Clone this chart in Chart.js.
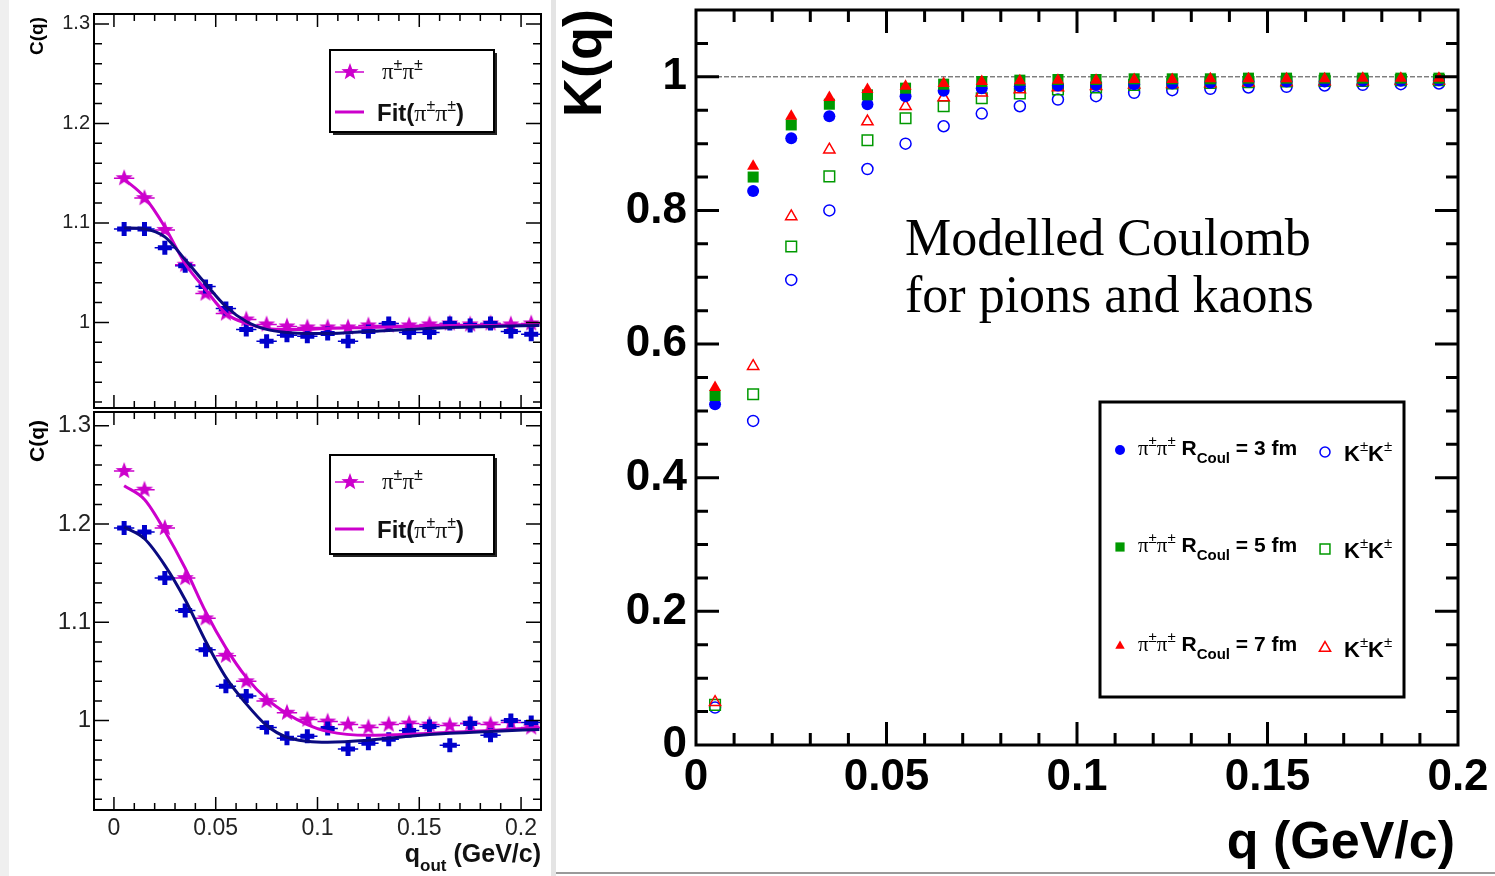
<!DOCTYPE html>
<html>
<head>
<meta charset="utf-8">
<script src="https://cdn.jsdelivr.net/npm/chart.js@4.4.0/dist/chart.umd.min.js"></script>
<style>
  body { margin: 0; background: #fff; width: 1495px; height: 876px; position: relative; overflow: hidden; }
  canvas { position: absolute; }
  .strip { position: absolute; }
  #topLeft { left: 0; top: 0; }
  #botLeft { left: 0; top: 400px; }
  #right { left: 556px; top: 0; }
</style>
</head>
<body>
<div class="strip" style="left:0;top:0;width:9px;height:876px;background:#efefef"></div>
<div class="strip" style="left:551px;top:0;width:5px;height:876px;background:#e4e4e4"></div>
<div class="strip" style="left:556px;top:872px;width:939px;height:2px;background:#9a9a9a"></div>
<canvas id="topLeft" width="553" height="420"></canvas>
<canvas id="botLeft" width="553" height="476"></canvas>
<canvas id="right" width="939" height="876"></canvas>
<script>
// left panels: q_out bins
const qOut = [0.005, 0.015, 0.025, 0.035, 0.045, 0.055, 0.065, 0.075, 0.085, 0.095, 0.105,
  0.115, 0.125, 0.135, 0.145, 0.155, 0.165, 0.175, 0.185, 0.195, 0.205];
const topStars = [1.145, 1.125, 1.093, 1.058, 1.029, 1.009, 1.003, 0.998, 0.996, 0.995, 0.995,
  0.995, 0.997, 0.997, 0.997, 0.998, 0.999, 0.998, 0.999, 0.998, 0.999];
const topCrosses = [1.094, 1.094, 1.075, 1.057, 1.036, 1.014, 0.993, 0.981, 0.987, 0.986, 0.989,
  0.981, 0.991, 0.999, 0.990, 0.990, 0.999, 0.997, 0.999, 0.991, 0.988];
const botStars = [1.254, 1.235, 1.196, 1.145, 1.104, 1.066, 1.040, 1.020, 1.008, 1.001, 0.999,
  0.996, 0.993, 0.996, 0.997, 0.996, 0.995, 0.997, 0.996, 0.998, 0.993];
const botCrosses = [1.196, 1.192, 1.145, 1.112, 1.072, 1.035, 1.025, 0.993, 0.982, 0.984, 0.992,
  0.971, 0.977, 0.981, 0.990, 0.994, 0.975, 0.997, 0.985, 1.000, 0.998];

// fit curves
const fitQ = [0.005, 0.015, 0.025, 0.035, 0.045, 0.055, 0.065, 0.075, 0.085, 0.095, 0.105, 0.125, 0.145, 0.165, 0.185, 0.209];
const topFitMag = [1.144, 1.126, 1.096, 1.059, 1.033, 1.009, 0.999, 0.994, 0.993, 0.993, 0.994, 0.995, 0.996, 0.997, 0.997, 0.998];
const topFitNavy = [1.095, 1.094, 1.086, 1.063, 1.039, 1.016, 1.001, 0.993, 0.990, 0.989, 0.989, 0.991, 0.993, 0.995, 0.996, 0.997];
const botFitMag = [1.239, 1.225, 1.193, 1.155, 1.111, 1.074, 1.044, 1.022, 1.007, 0.996, 0.989, 0.985, 0.986, 0.988, 0.990, 0.993];
const botFitNavy = [1.197, 1.185, 1.158, 1.123, 1.081, 1.044, 1.017, 0.995, 0.983, 0.979, 0.978, 0.980, 0.984, 0.987, 0.989, 0.991];

// right panel: modelled Coulomb K(q)
const qK = [0.005, 0.015, 0.025, 0.035, 0.045, 0.055, 0.065, 0.075, 0.085, 0.095,
  0.105, 0.115, 0.125, 0.135, 0.145, 0.155, 0.165, 0.175, 0.185, 0.195];
const pion3 = [0.510, 0.829, 0.908, 0.941, 0.959, 0.971, 0.979, 0.983, 0.986, 0.987,
  0.988, 0.989, 0.990, 0.991, 0.993, 0.993, 0.993, 0.994, 0.994, 0.995];
const pion5 = [0.523, 0.850, 0.928, 0.959, 0.973, 0.983, 0.989, 0.993, 0.995, 0.996,
  0.996, 0.997, 0.997, 0.997, 0.998, 0.998, 0.998, 0.998, 0.998, 0.998];
const pion7 = [0.535, 0.866, 0.941, 0.969, 0.981, 0.986, 0.990, 0.993, 0.994, 0.995,
  0.995, 0.996, 0.996, 0.997, 0.997, 0.997, 0.997, 0.998, 0.998, 0.998];
const kaon3 = [0.056, 0.485, 0.696, 0.800, 0.862, 0.900, 0.926, 0.945, 0.956, 0.966,
  0.971, 0.976, 0.980, 0.982, 0.984, 0.985, 0.987, 0.988, 0.989, 0.990];
const kaon5 = [0.060, 0.525, 0.746, 0.851, 0.905, 0.938, 0.956, 0.968, 0.975, 0.981,
  0.984, 0.988, 0.990, 0.991, 0.992, 0.993, 0.994, 0.994, 0.995, 0.995];
const kaon7 = [0.064, 0.567, 0.791, 0.891, 0.933, 0.956, 0.969, 0.976, 0.981, 0.984,
  0.986, 0.988, 0.989, 0.990, 0.991, 0.992, 0.993, 0.993, 0.994, 0.994];
const refX = [0, 0.2];
const refY = [1, 1];

// tick labels
const leftXTicks = [0, 0.05, 0.1, 0.15, 0.2];
const leftYTicks = [1, 1.1, 1.2, 1.3];
const rightXTicks = [0, 0.05, 0.1, 0.15, 0.2];
const rightYTicks = [0, 0.2, 0.4, 0.6, 0.8, 1];

const SANS = '"Liberation Sans", Arial, Helvetica, sans-serif';
const SERIF = '"Liberation Serif", "Times New Roman", serif';
const MAG = '#cc00cc', NAVY = '#0a0a80', BLUE_X = '#0000cc';

const pts = (xs, ys) => xs.map((x, i) => ({ x, y: ys[i] }));
const fmt = v => String(Math.round(v * 1000) / 1000);
const setTicks = list => s => { s.ticks = list.map(v => ({ value: v })); };
// fix the axis size and drop the label overhang padding so the frame lands where it should
const fixWidth = w => s => { s.width = w; s.paddingTop = 0; s.paddingBottom = 0; s.paddingLeft = 0; s.paddingRight = 0; };
const fixHeight = h => s => { s.height = h; s.paddingTop = 0; s.paddingBottom = 0; s.paddingLeft = 0; s.paddingRight = 0; };

// filled 5 point star, ROOT style
function starImage(color, r) {
  const c = document.createElement('canvas');
  c.width = c.height = 2 * r + 2;
  const g = c.getContext('2d');
  g.fillStyle = color;
  g.beginPath();
  for (let i = 0; i < 10; i++) {
    const ang = -Math.PI / 2 + i * Math.PI / 5;
    const rr = i % 2 ? r * 0.42 : r;
    g.lineTo(r + 1 + rr * Math.cos(ang), r + 1 + rr * Math.sin(ang));
  }
  g.closePath();
  g.fill();
  return c;
}
const starImg = starImage(MAG, 9);

function richText(ctx, x, y, parts, align) {
  let w = 0;
  parts.forEach(p => { ctx.font = p[1]; w += ctx.measureText(p[0]).width; });
  let cx = align === 'right' ? x - w : x;
  ctx.textAlign = 'left';
  ctx.textBaseline = 'alphabetic';
  parts.forEach(p => {
    ctx.font = p[1];
    ctx.fillText(p[0], cx, y + (p[2] || 0));
    cx += ctx.measureText(p[0]).width;
  });
}

// frame + inward ticks on all four sides
const frameTicks = {
  id: 'frameTicks',
  afterDatasetsDraw(chart, args, o) {
    const { ctx, chartArea: a, scales: { x, y } } = chart;
    const vals = (s, step) => {
      const out = [];
      for (let v = Math.ceil(s.min / step - 1e-9) * step; v <= s.max + 1e-9; v += step) out.push(+v.toFixed(6));
      return out;
    };
    const isMajor = (v, list) => list.some(m => Math.abs(m - v) < 1e-6);
    ctx.save();
    ctx.strokeStyle = '#000';
    ctx.lineWidth = o.tickWidth;
    ctx.beginPath();
    vals(x, o.minorX).forEach(v => {
      const px = x.getPixelForValue(v);
      if (px < a.left + 2 || px > a.right - 2) return;
      const len = isMajor(v, o.majorX) ? o.majorLenX : o.minorLenX;
      ctx.moveTo(px, a.bottom); ctx.lineTo(px, a.bottom - len);
      ctx.moveTo(px, a.top); ctx.lineTo(px, a.top + len);
    });
    vals(y, o.minorY).forEach(v => {
      const py = y.getPixelForValue(v);
      if (py < a.top + 2 || py > a.bottom - 2) return;
      const len = isMajor(v, o.majorY) ? o.majorLenY : o.minorLenY;
      ctx.moveTo(a.left, py); ctx.lineTo(a.left + len, py);
      ctx.moveTo(a.right, py); ctx.lineTo(a.right - len, py);
    });
    ctx.stroke();
    ctx.lineWidth = o.frameWidth;
    ctx.strokeRect(a.left, a.top, a.right - a.left, a.bottom - a.top);
    ctx.restore();
  }
};

// horizontal bin-width bars on the data points
const xErrBars = {
  id: 'xErrBars',
  beforeDatasetsDraw(chart) {
    const { ctx, chartArea: a, scales: { x, y } } = chart;
    ctx.save();
    ctx.beginPath();
    ctx.rect(a.left, a.top, a.right - a.left, a.bottom - a.top);
    ctx.clip();
    chart.data.datasets.forEach(ds => {
      if (!ds.errX) return;
      ctx.strokeStyle = ds.errColor;
      ctx.lineWidth = 1.5;
      ctx.beginPath();
      ds.data.forEach(p => {
        const py = y.getPixelForValue(p.y);
        ctx.moveTo(x.getPixelForValue(p.x - ds.errX), py);
        ctx.lineTo(x.getPixelForValue(p.x + ds.errX), py);
      });
      ctx.stroke();
    });
    ctx.restore();
  }
};

function leftLegend(ctx, bx, by, bw, bh, starY, lineY) {
  ctx.save();
  ctx.fillStyle = '#222';
  ctx.fillRect(bx + 3, by + 3, bw, bh);
  ctx.fillStyle = '#fff';
  ctx.fillRect(bx, by, bw, bh);
  ctx.strokeStyle = '#000';
  ctx.lineWidth = 2;
  ctx.strokeRect(bx, by, bw, bh);
  // star entry
  ctx.strokeStyle = MAG;
  ctx.lineWidth = 1.5;
  ctx.beginPath(); ctx.moveTo(bx + 5, starY); ctx.lineTo(bx + 34, starY); ctx.stroke();
  ctx.drawImage(starImg, bx + 20 - 10, starY - 10);
  ctx.fillStyle = '#111';
  const pi = `23px ${SERIF}`, pm = `16px ${SANS}`;
  richText(ctx, bx + 52, starY + 7, [['π', pi], ['±', pm, -9], ['π', pi], ['±', pm, -9]]);
  // fit entry
  ctx.strokeStyle = MAG;
  ctx.lineWidth = 3;
  ctx.beginPath(); ctx.moveTo(bx + 5, lineY); ctx.lineTo(bx + 34, lineY); ctx.stroke();
  const bf = `bold 24px ${SANS}`;
  richText(ctx, bx + 47, lineY + 9, [['Fit(', bf], ['π', `24px ${SERIF}`], ['±', pm, -10], ['π', `24px ${SERIF}`], ['±', pm, -10], [')', bf]]);
  ctx.restore();
}

function rotatedText(ctx, text, x, y, font) {
  ctx.save();
  ctx.translate(x, y);
  ctx.rotate(-Math.PI / 2);
  ctx.font = font;
  ctx.fillStyle = '#000';
  ctx.textAlign = 'center';
  ctx.textBaseline = 'middle';
  ctx.fillText(text, 0, 0);
  ctx.restore();
}

const leftFrameOpts = {
  tickWidth: 1.5, frameWidth: 2,
  majorX: leftXTicks, minorX: 0.01, majorLenX: 13, minorLenX: 7,
  majorY: leftYTicks, minorY: 0.02, majorLenY: 15, minorLenY: 8
};

function leftDatasets(stars, crosses, fitMag, fitNavy) {
  return [
    { data: pts(fitQ, fitNavy), showLine: true, borderColor: NAVY, borderWidth: 3, pointRadius: 0,
      cubicInterpolationMode: 'monotone', order: 1 },
    { data: pts(fitQ, fitMag), showLine: true, borderColor: MAG, borderWidth: 3, pointRadius: 0,
      cubicInterpolationMode: 'monotone', order: 2 },
    { data: pts(qOut, crosses), pointStyle: 'cross', pointRadius: 7, pointBorderWidth: 5,
      borderColor: BLUE_X, backgroundColor: BLUE_X, errX: 0.005, errColor: BLUE_X, order: 3 },
    { data: pts(qOut, stars), pointStyle: starImg, pointRadius: 9, errX: 0.005, errColor: MAG, order: 4 }
  ];
}

const noPlugins = { legend: { display: false }, tooltip: { enabled: false } };

// top-left panel
new Chart(document.getElementById('topLeft'), {
  type: 'scatter',
  data: { datasets: leftDatasets(topStars, topCrosses, topFitMag, topFitNavy) },
  options: {
    responsive: false, animation: false, events: [],
    layout: { padding: { left: 0, right: 11, top: 14, bottom: 11 } },
    plugins: { ...noPlugins, frameTicks: leftFrameOpts },
    scales: {
      x: { type: 'linear', min: -0.0098, max: 0.2098, display: false },
      y: {
        type: 'linear', min: 0.914, max: 1.31,
        afterBuildTicks: setTicks(leftYTicks),
        afterFit: fixWidth(94),
        grid: { display: false, drawTicks: false }, border: { display: false },
        ticks: { autoSkip: false, padding: 4, color: '#222', font: { family: SANS, size: 20 }, callback: fmt }
      }
    }
  },
  plugins: [xErrBars, frameTicks, {
    id: 'deco',
    afterDraw(chart) {
      const ctx = chart.ctx;
      rotatedText(ctx, 'C(q)', 38, 36, `bold 19px ${SANS}`);
      leftLegend(ctx, 330, 50, 164, 82, 72, 112);
    }
  }]
});

// bottom-left panel
new Chart(document.getElementById('botLeft'), {
  type: 'scatter',
  data: { datasets: leftDatasets(botStars, botCrosses, botFitMag, botFitNavy) },
  options: {
    responsive: false, animation: false, events: [],
    layout: { padding: { left: 0, right: 11, top: 9, bottom: 0 } },
    plugins: { ...noPlugins, frameTicks: leftFrameOpts },
    scales: {
      x: {
        type: 'linear', min: -0.0098, max: 0.2098,
        afterBuildTicks: setTicks(leftXTicks),
        afterFit: fixHeight(66),
        grid: { display: false, drawTicks: false }, border: { display: false },
        ticks: { autoSkip: false, maxRotation: 0, padding: 5, color: '#222', font: { family: SANS, size: 23 }, callback: fmt }
      },
      y: {
        type: 'linear', min: 0.909, max: 1.314,
        afterBuildTicks: setTicks(leftYTicks),
        afterFit: fixWidth(94),
        grid: { display: false, drawTicks: false }, border: { display: false },
        ticks: { autoSkip: false, padding: 3, color: '#222', font: { family: SANS, size: 24 }, callback: fmt }
      }
    }
  },
  plugins: [xErrBars, frameTicks, {
    id: 'deco',
    afterDraw(chart) {
      const ctx = chart.ctx;
      rotatedText(ctx, 'C(q)', 38, 41, `bold 21px ${SANS}`);
      leftLegend(ctx, 330, 55, 164, 99, 82, 129);
      ctx.save();
      ctx.fillStyle = '#111';
      richText(ctx, 541, 462, [['q', `bold 25px ${SANS}`], ['out', `bold 17px ${SANS}`, 9], [' (GeV/c)', `bold 25px ${SANS}`]], 'right');
      ctx.restore();
    }
  }]
});

// right panel
const BLUE = '#0000ff', GREEN = '#009900', RED = '#ff0000';
const legendRows = [
  { r: '3', fill: { pointStyle: 'circle', radius: 5, color: BLUE }, open: { pointStyle: 'circle', radius: 5, color: BLUE } },
  { r: '5', fill: { pointStyle: 'rect', radius: 6.5, color: GREEN }, open: { pointStyle: 'rect', radius: 7, color: GREEN } },
  { r: '7', fill: { pointStyle: 'triangle', radius: 5.5, color: RED }, open: { pointStyle: 'triangle', radius: 6.5, color: RED } }
];

new Chart(document.getElementById('right'), {
  type: 'scatter',
  data: {
    datasets: [
      { data: pts(refX, refY), showLine: true, borderColor: '#444', borderWidth: 1, borderDash: [5, 2], pointRadius: 0, order: 9 },
      { data: pts(qK, kaon3), pointStyle: 'circle', pointRadius: 5.5, borderColor: BLUE, backgroundColor: 'rgba(0,0,0,0)', pointBorderWidth: 1.5, order: 8 },
      { data: pts(qK, kaon5), pointStyle: 'rect', pointRadius: 7.5, borderColor: GREEN, backgroundColor: 'rgba(0,0,0,0)', pointBorderWidth: 1.5, order: 7 },
      { data: pts(qK, kaon7), pointStyle: 'triangle', pointRadius: 6.5, borderColor: RED, backgroundColor: 'rgba(0,0,0,0)', pointBorderWidth: 1.5, order: 6 },
      { data: pts(qK, pion3), pointStyle: 'circle', pointRadius: 6, borderColor: BLUE, backgroundColor: BLUE, pointBorderWidth: 0, order: 5 },
      { data: pts(qK, pion5), pointStyle: 'rect', pointRadius: 7.8, borderColor: GREEN, backgroundColor: GREEN, pointBorderWidth: 0, order: 4 },
      { data: pts(qK, pion7), pointStyle: 'triangle', pointRadius: 7, borderColor: RED, backgroundColor: RED, pointBorderWidth: 0, order: 3 }
    ]
  },
  options: {
    responsive: false, animation: false, events: [],
    layout: { padding: { left: 0, right: 37, top: 10, bottom: 0 } },
    plugins: {
      ...noPlugins,
      frameTicks: {
        tickWidth: 3, frameWidth: 3,
        majorX: rightXTicks, minorX: 0.01, majorLenX: 23, minorLenX: 12,
        majorY: rightYTicks, minorY: 0.05, majorLenY: 23, minorLenY: 12
      }
    },
    scales: {
      x: {
        type: 'linear', min: 0, max: 0.2,
        afterBuildTicks: setTicks(rightXTicks),
        afterFit: fixHeight(131),
        grid: { display: false, drawTicks: false }, border: { display: false },
        ticks: { autoSkip: false, maxRotation: 0, padding: 6, color: '#000', font: { family: SANS, size: 44, weight: 'bold' }, callback: fmt }
      },
      y: {
        type: 'linear', min: 0, max: 1.1,
        afterBuildTicks: setTicks(rightYTicks),
        afterFit: fixWidth(140),
        grid: { display: false, drawTicks: false }, border: { display: false },
        ticks: { autoSkip: false, padding: 9, color: '#000', font: { family: SANS, size: 44, weight: 'bold' }, callback: fmt }
      }
    }
  },
  plugins: [frameTicks, {
    id: 'deco',
    afterDraw(chart) {
      const ctx = chart.ctx;
      const ox = 556;
      rotatedText(ctx, 'K(q)', 586 - ox, 63, `bold 54px ${SANS}`);
      ctx.save();
      ctx.fillStyle = '#000';
      ctx.font = `bold 52px ${SANS}`;
      ctx.textAlign = 'right';
      ctx.textBaseline = 'alphabetic';
      ctx.fillText('q (GeV/c)', 1455 - ox, 858);
      // annotation
      ctx.font = `52px ${SERIF}`;
      ctx.textAlign = 'left';
      ctx.fillText('Modelled Coulomb', 905 - ox, 255);
      ctx.fillText('for pions and kaons', 905 - ox, 312);
      // legend box
      ctx.lineWidth = 3;
      ctx.strokeStyle = '#000';
      ctx.strokeRect(1100 - ox, 402, 304, 295);
      const baselines = [455, 552, 651];
      const pi = `21px ${SERIF}`, pm = `15px ${SANS}`, b = `bold 21px ${SANS}`;
      legendRows.forEach((row, i) => {
        const yb = baselines[i];
        ctx.fillStyle = row.fill.color;
        ctx.strokeStyle = row.fill.color;
        Chart.helpers.drawPoint(ctx, { pointStyle: row.fill.pointStyle, radius: row.fill.radius, borderWidth: 0, rotation: 0 }, 1120 - ox, yb - 5);
        ctx.fillStyle = 'rgba(0,0,0,0)';
        ctx.strokeStyle = row.open.color;
        ctx.lineWidth = 1.5;
        Chart.helpers.drawPoint(ctx, { pointStyle: row.open.pointStyle, radius: row.open.radius, borderWidth: 1.5, rotation: 0 }, 1325 - ox, yb - 3);
        ctx.fillStyle = '#000';
        richText(ctx, 1138 - ox, yb, [['π', pi], ['±', pm, -9], ['π', pi], ['±', pm, -9], [' R', b],
          ['Coul', `bold 15px ${SANS}`, 8], [' = ' + row.r + ' fm', b]]);
        richText(ctx, 1344 - ox, yb + 6, [['K', `bold 22px ${SANS}`], ['±', pm, -10], ['K', `bold 22px ${SANS}`], ['±', pm, -10]]);
      });
      ctx.restore();
    }
  }]
});
</script>
</body>
</html>
